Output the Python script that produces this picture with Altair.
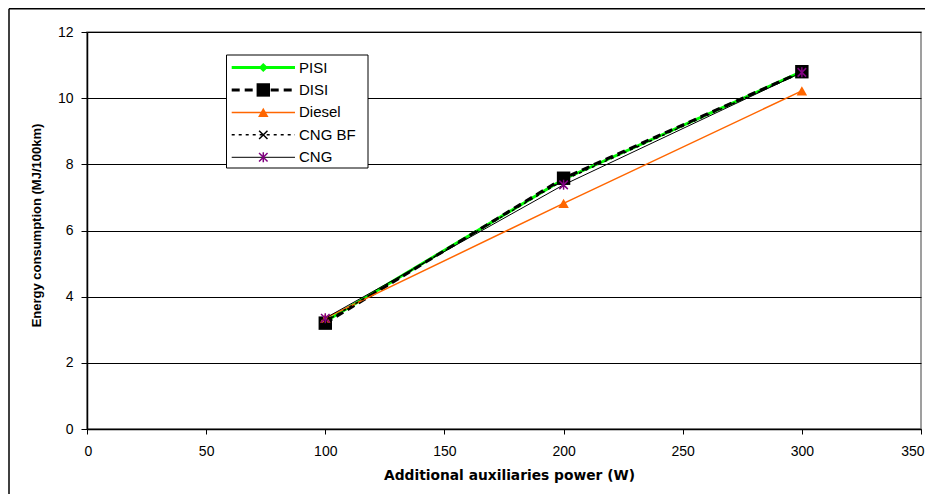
import altair as alt
import pandas as pd

# ---- data ----
power = [100, 200, 300]
series_names = ["PISI", "DISI", "Diesel", "CNG BF", "CNG"]
pisi = [3.25, 7.55, 10.80]
disi = [3.20, 7.58, 10.80]
diesel = [3.35, 6.82, 10.22]
cng_bf = [3.25, 7.52, 10.78]
cng = [3.35, 7.38, 10.78]
series_values = [pisi, disi, diesel, cng_bf, cng]
x_ticks = [0, 50, 100, 150, 200, 250, 300, 350]
y_ticks = [0, 2, 4, 6, 8, 10, 12]

# ---- styles ----
X_PATH = "M-1,-1L1,1M-1,1L1,-1"
STAR_PATH = "M0,-1L0,1M-0.85,-0.85L0.85,0.85M-0.85,0.85L0.85,-0.85"
styles = {
    "PISI": dict(line=dict(color="#00FF00", strokeWidth=3),
                 pt=dict(shape="diamond", filled=True, color="#00FF00", size=85)),
    "DISI": dict(line=dict(color="#000000", strokeWidth=3, strokeDash=[8, 5]),
                 pt=dict(shape="square", filled=True, color="#000000", size=180)),
    "Diesel": dict(line=dict(color="#FF6600", strokeWidth=1.5),
                   pt=dict(shape="triangle-up", filled=True, color="#FF6600", size=110)),
    "CNG BF": dict(line=dict(color="#000000", strokeWidth=1.5, strokeDash=[3, 4]),
                   pt=dict(shape=X_PATH, filled=False, color="#000000", size=70, strokeWidth=1.5)),
    "CNG": dict(line=dict(color="#000000", strokeWidth=1),
                pt=dict(shape=STAR_PATH, filled=False, color="#800080", size=100, strokeWidth=1.5)),
}

W, H = 834, 397
FONT = "Liberation Sans"

x_enc = alt.X(
    "power:Q",
    scale=alt.Scale(domain=[0, 350], nice=False, zero=False),
    axis=alt.Axis(
        values=x_ticks, grid=False, title="Additional auxiliaries power (W)",
        labelFont=FONT, labelFontSize=14, labelColor="black", labelPadding=10,
        tickColor="black", tickSize=5, domainColor="black", domainWidth=1.5,
        titleFont="DejaVu Sans", titleFontSize=13.8, titleFontWeight="bold", titleColor="black",
        titleX=422, titleY=46, titleBaseline="middle", titleAlign="center",
        labelFlush=True, labelFlushOffset=3, labelOverlap=False,
    ),
)
y_enc = alt.Y(
    "energy:Q",
    scale=alt.Scale(domain=[0, 12], nice=False),
    axis=alt.Axis(
        values=y_ticks, grid=True, gridColor="#000000", gridWidth=1,
        title="Energy consumption (MJ/100km)",
        labelFont=FONT, labelFontSize=14, labelColor="black", labelPadding=8,
        tickColor="black", tickSize=6, domainColor="black", domainWidth=1.5,
        titleFont=FONT, titleFontSize=13, titleFontWeight="bold", titleColor="black",
        titleX=-51, titleY=193, titleAngle=270, titleBaseline="middle", titleAlign="center",
        labelFlush=False,
    ),
)

layers = []
for name, vals in zip(series_names, series_values):
    df = pd.DataFrame({"power": power, "energy": vals, "series": name})
    st = styles[name]
    layers.append(alt.Chart(df).mark_line(**st["line"]).encode(x=x_enc, y=y_enc))
    layers.append(alt.Chart(df).mark_point(opacity=1, **st["pt"]).encode(x=x_enc, y=y_enc))

# ---- legend (inside the plot) ----
one = pd.DataFrame({"a": [0]})
LX0, LX1, LY0, LY1 = 139.5, 281, 23, 136
layers.append(
    alt.Chart(one).mark_rect(fill="white", stroke="black", strokeWidth=1).encode(
        x=alt.value(LX0), x2=alt.value(LX1), y=alt.value(LY0), y2=alt.value(LY1))
)
row0, step = 35.5, 22.45
for i, name in enumerate(series_names):
    yy = row0 + i * step
    st = styles[name]
    layers.append(alt.Chart(one).mark_rule(**st["line"]).encode(
        x=alt.value(144.7), x2=alt.value(208), y=alt.value(yy)))
    layers.append(alt.Chart(one).mark_point(opacity=1, **st["pt"]).encode(
        x=alt.value(176.3), y=alt.value(yy)))
    lab = pd.DataFrame({"label": [name]})
    layers.append(alt.Chart(lab).mark_text(
        align="left", baseline="middle", font=FONT, fontSize=15, color="black").encode(
        x=alt.value(212), y=alt.value(yy), text="label:N"))

# ---- outer frame (left and top edges) ----
layers.append(alt.Chart(one).mark_rule(color="black", strokeWidth=1.5).encode(
    x=alt.value(-78), y=alt.value(-23.2), y2=alt.value(H + 65)))
layers.append(alt.Chart(one).mark_rule(color="black", strokeWidth=1.5).encode(
    x=alt.value(-78), x2=alt.value(W + 4), y=alt.value(-23.2)))

chart = (
    alt.layer(*layers)
    .properties(
        width=W, height=H,
        autosize=alt.AutoSizeParams(type="none"),
        padding={"left": 79, "top": 24, "right": 4, "bottom": 65},
        background="white",
    )
    .configure_view(stroke="#808080", strokeWidth=1.5)
)

chart.save("out.html", embed_options={"renderer": "svg", "actions": False})
